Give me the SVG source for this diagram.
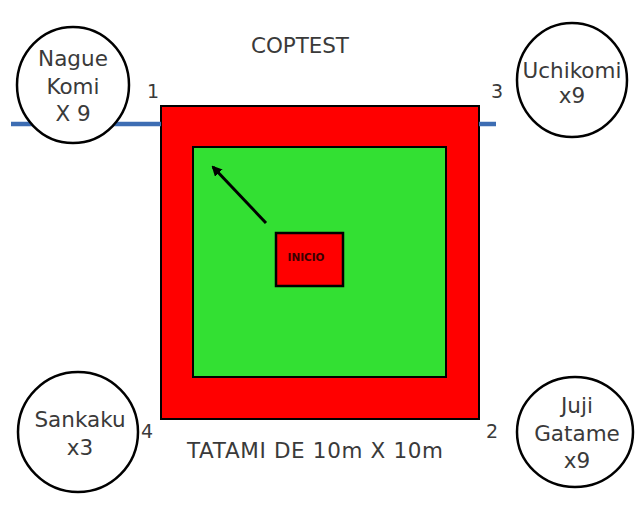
<svg xmlns="http://www.w3.org/2000/svg" width="635" height="506" viewBox="0 0 635 506">
<style>
text{font-family:"DejaVu Sans",Verdana,sans-serif;fill:#3a3a3a;text-anchor:middle}
.lbl{font-size:21.5px}
.ttl{font-size:21.5px}
.num{font-size:19px}
.circ{fill:#fff;stroke:#000;stroke-width:2.5}
</style>
<defs>
<marker id="ah" viewBox="0 0 10 10" refX="8" refY="5" markerWidth="3.5" markerHeight="3.5" orient="auto"><path d="M0,0L10,5L0,10z" fill="#000"/></marker>
</defs>
<rect width="635" height="506" fill="#fff"/>
<g id="tatami">
<rect x="161" y="106" width="318" height="313" fill="#ff0000" stroke="#000" stroke-width="2"/>
<rect x="193" y="147" width="253" height="230" fill="#33e033" stroke="#000" stroke-width="2"/>
</g>
<g id="connectors">
<line x1="11" y1="124" x2="161" y2="124" stroke="#3d6db3" stroke-width="4.5"/>
<line x1="479" y1="124" x2="496" y2="124" stroke="#3d6db3" stroke-width="4.5"/>
<line x1="266" y1="223" x2="213" y2="167" stroke="#000" stroke-width="3" marker-end="url(#ah)"/>
</g>
<g id="inicio">
<rect x="276" y="233" width="67" height="53" fill="#ff0000" stroke="#000" stroke-width="2.5"/>
<text x="306" y="261" style="font-size:10px;font-weight:bold;fill:#3a0000" textLength="37" lengthAdjust="spacingAndGlyphs">INICIO</text>
</g>
<g id="nague">
<ellipse class="circ" cx="73" cy="85" rx="56" ry="58"/>
<text class="lbl" x="73" y="66">Nague</text>
<text class="lbl" x="73" y="94">Komi</text>
<text class="lbl" x="73" y="121">X 9</text>
</g>
<g id="uchikomi">
<ellipse class="circ" cx="572" cy="80" rx="55" ry="57"/>
<text class="lbl" x="572" y="78">Uchikomi</text>
<text class="lbl" x="572" y="103">x9</text>
</g>
<g id="sankaku">
<ellipse class="circ" cx="78" cy="432" rx="60" ry="60"/>
<text class="lbl" x="80" y="427">Sankaku</text>
<text class="lbl" x="80" y="455">x3</text>
</g>
<g id="juji">
<ellipse class="circ" cx="575" cy="432" rx="58" ry="55"/>
<text class="lbl" x="577" y="413">Juji</text>
<text class="lbl" x="577" y="441">Gatame</text>
<text class="lbl" x="577" y="468">x9</text>
</g>
<g id="labels">
<text class="ttl" x="300" y="53" textLength="98" lengthAdjust="spacing">COPTEST</text>
<text class="ttl" x="315" y="458" textLength="256" lengthAdjust="spacing">TATAMI DE 10m X 10m</text>
<text class="num" x="153" y="98">1</text>
<text class="num" x="497" y="98">3</text>
<text class="num" x="147" y="438">4</text>
<text class="num" x="492" y="438">2</text>
</g>
</svg>
